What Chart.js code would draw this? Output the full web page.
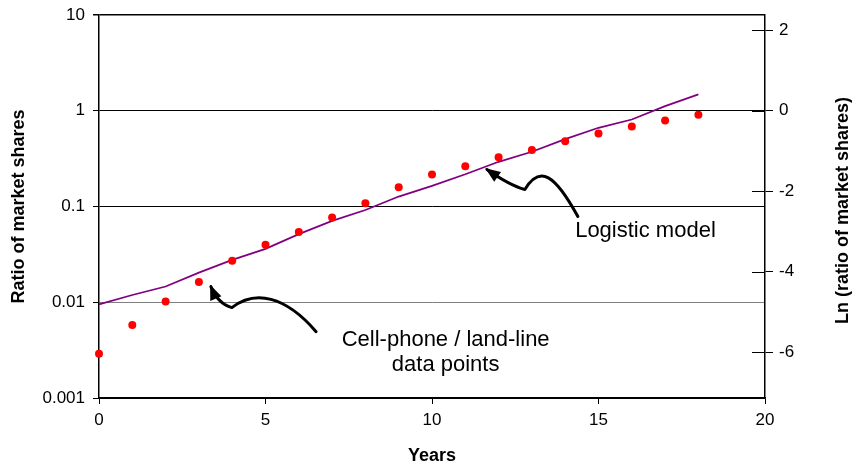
<!DOCTYPE html>
<html>
<head>
<meta charset="utf-8">
<script src="https://cdn.jsdelivr.net/npm/chart.js@4.4.0/dist/chart.umd.min.js"></script>
<style>
    html, body { margin: 0; padding: 0; background: #fff; }
</style>
</head>
<body>
<canvas id="marketChart" width="852" height="467"></canvas>
<script>
// values
const years = [0, 1, 2, 3, 4, 5, 6, 7, 8, 9, 10, 11, 12, 13, 14, 15, 16, 17, 18];
const ratioData = [0.0029, 0.0058, 0.0102, 0.0163, 0.0272, 0.0399, 0.054, 0.0768, 0.108, 0.159,
                   0.216, 0.264, 0.326, 0.388, 0.479, 0.578, 0.685, 0.792, 0.908];
const logisticModel = [0.0095, 0.0119, 0.0146, 0.0204, 0.0277, 0.0361, 0.0515, 0.0707, 0.092, 0.127,
                       0.164, 0.217, 0.293, 0.373, 0.506, 0.664, 0.81, 1.117, 1.48];
const yearTicks = [0, 5, 10, 15, 20];
const ratioTicks = [0.001, 0.01, 0.1, 1, 10];
const lnTicks = [-6, -4, -2, 0, 2];

// annotations, in data units (year, ratio)
const notes = [
    { text: 'Logistic model', x: 16.41, y: 0.0486 },
    { text: 'Cell-phone / land-line', x: 10.41, y: 0.00352 },
    { text: 'data points', x: 10.41, y: 0.00193 }
];
const arrows = [
    // tail, c1, c2, trough, q, tip
    [[14.38, 0.0786], [13.69, 0.216], [13.24, 0.275], [12.79, 0.1506], [12.34, 0.1658], [11.65, 0.2437]],
    [[6.52, 0.00493], [5.59, 0.01173], [4.68, 0.01356], [3.99, 0.00879], [3.57, 0.00968], [3.36, 0.01457]]
];

Chart.defaults.font.family = "'Liberation Sans', Arial, sans-serif";
Chart.defaults.color = '#000';

const extras = {
    id: 'extras',
    afterDraw(chart) {
        const ctx = chart.ctx;
        const xs = chart.scales.x, ys = chart.scales.y, y2 = chart.scales.y2;
        const area = chart.chartArea;
        const P = (p) => [xs.getPixelForValue(p[0]), ys.getPixelForValue(p[1])];

        ctx.save();
        // right axis ticks cross the axis
        ctx.strokeStyle = '#000';
        ctx.lineWidth = 1;
        y2.ticks.forEach(t => {
            const py = Math.round(y2.getPixelForValue(t.value)) + 0.5;
            ctx.beginPath();
            ctx.moveTo(y2.left - 13, py);
            ctx.lineTo(y2.left, py);
            ctx.stroke();
        });

        // right axis title, reading bottom to top
        ctx.save();
        ctx.translate(843, (area.top + area.bottom) / 2 + 4);
        ctx.rotate(-Math.PI / 2);
        ctx.font = "bold 18px 'Liberation Sans', Arial, sans-serif";
        ctx.fillStyle = '#000';
        ctx.textAlign = 'center';
        ctx.textBaseline = 'middle';
        ctx.fillText('Ln (ratio of market shares)', 0, 0);
        ctx.restore();

        // notes
        ctx.font = "22px 'Liberation Sans', Arial, sans-serif";
        ctx.fillStyle = '#000';
        ctx.textAlign = 'center';
        ctx.textBaseline = 'alphabetic';
        notes.forEach(n => {
            const p = P([n.x, n.y]);
            ctx.fillText(n.text, p[0], p[1]);
        });

        // curly arrows
        ctx.lineWidth = 3;
        ctx.lineCap = 'round';
        ctx.lineJoin = 'round';
        arrows.forEach(a => {
            const [t0, c1, c2, tr, q, tip] = a.map(P);
            ctx.beginPath();
            ctx.moveTo(t0[0], t0[1]);
            ctx.bezierCurveTo(c1[0], c1[1], c2[0], c2[1], tr[0], tr[1]);
            ctx.quadraticCurveTo(q[0], q[1], tip[0], tip[1]);
            ctx.stroke();

            const ang = Math.atan2(tip[1] - q[1], tip[0] - q[0]);
            const len = 13, half = 6;
            const bx = tip[0] - len * Math.cos(ang), by = tip[1] - len * Math.sin(ang);
            ctx.beginPath();
            ctx.moveTo(tip[0] + 2 * Math.cos(ang), tip[1] + 2 * Math.sin(ang));
            ctx.lineTo(bx + half * Math.sin(ang), by - half * Math.cos(ang));
            ctx.lineTo(bx - half * Math.sin(ang), by + half * Math.cos(ang));
            ctx.closePath();
            ctx.fill();
        });
        ctx.restore();
    }
};

new Chart(document.getElementById('marketChart'), {
    type: 'scatter',
    data: {
        datasets: [{
            label: 'Cell-phone / land-line data points',
            data: years.map((x, i) => ({ x: x, y: ratioData[i] })),
            showLine: false,
            pointRadius: 4,
            pointHoverRadius: 4,
            pointBorderWidth: 0,
            backgroundColor: '#ff0000',
            borderColor: '#ff0000',
            clip: false,
            yAxisID: 'y',
            order: 0
        }, {
            label: 'Logistic model',
            data: years.map((x, i) => ({ x: x, y: logisticModel[i] })),
            showLine: true,
            borderColor: '#800080',
            borderWidth: 1.75,
            pointRadius: 0,
            pointHoverRadius: 0,
            tension: 0,
            clip: false,
            yAxisID: 'y',
            order: 1
        }]
    },
    options: {
        responsive: false,
        animation: false,
        devicePixelRatio: 1,
        layout: { padding: { top: 15, left: 0, right: 0, bottom: 0 } },
        plugins: { legend: { display: false }, tooltip: { enabled: false } },
        scales: {
            x: {
                type: 'linear',
                position: 'bottom',
                min: 0,
                max: 20,
                afterBuildTicks: s => { s.ticks = yearTicks.map(v => ({ value: v })); },
                afterFit: s => { s.height = 69; },
                grid: { drawOnChartArea: false, drawTicks: true, tickLength: 6, color: '#000' },
                border: { color: '#000', width: 1.5 },
                ticks: { font: { size: 17 }, padding: 6, maxRotation: 0 },
                title: { display: true, text: 'Years', font: { size: 18, weight: 'bold' }, padding: { top: 0, bottom: 0 } }
            },
            y: {
                type: 'logarithmic',
                position: 'left',
                min: 0.001,
                max: 10,
                afterBuildTicks: s => { s.ticks = ratioTicks.map(v => ({ value: v })); },
                afterFit: s => { s.width = 99; s.paddingTop = 0; s.paddingBottom = 0; },
                grid: {
                    color: c => (c.tick && c.tick.value === 0.01) ? '#808080' : '#000',
                    tickColor: '#000',
                    lineWidth: c => (c.tick && c.tick.value === 10) ? 1.5 : 1,
                    tickLength: 6
                },
                border: { color: '#000', width: 1.5 },
                ticks: { font: { size: 17 }, padding: 8, callback: v => String(v) },
                title: { display: true, text: 'Ratio of market shares', font: { size: 18, weight: 'bold' }, padding: { top: 8, bottom: 0 } }
            },
            y2: {
                type: 'linear',
                position: 'right',
                min: -7.14,
                max: 2.38,
                afterBuildTicks: s => { s.ticks = lnTicks.map(v => ({ value: v })); },
                afterFit: s => { s.width = 87; s.paddingTop = 0; s.paddingBottom = 0; },
                grid: { drawOnChartArea: false, tickLength: 8, color: '#000' },
                border: { color: '#000', width: 1.5 },
                ticks: { font: { size: 17 }, padding: 6 }
            }
        }
    },
    plugins: [extras]
});
</script>
</body>
</html>
